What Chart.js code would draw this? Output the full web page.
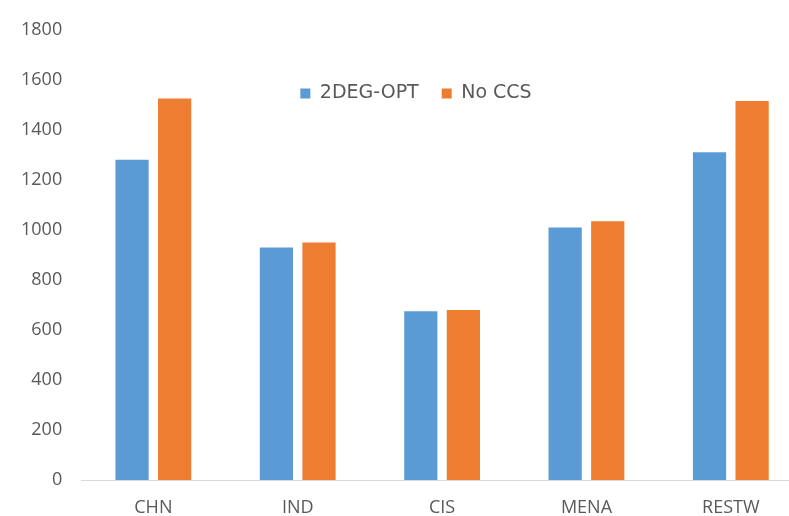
<!DOCTYPE html>
<html>
<head>
<meta charset="utf-8">
<script src="https://cdn.jsdelivr.net/npm/chart.js@4"></script>
<style>
  html, body { margin: 0; padding: 0; background: #ffffff; overflow: hidden; width: 789px; height: 516px; }
  #wrap { position: absolute; left: 0; top: 0; width: 806px; height: 516px; }
</style>
</head>
<body>
<div id="wrap"><canvas id="c" width="806" height="516"></canvas></div>
<script>
const categories = ['CHN', 'IND', 'CIS', 'MENA', 'RESTW'];
const series2degOpt = [1280, 930, 675, 1010, 1310];
const seriesNoCcs = [1525, 950, 680, 1035, 1515];
const yTicks = [0, 200, 400, 600, 800, 1000, 1200, 1400, 1600, 1800];

const textColor = '#595959';

// Place the legend inside the plot area (as in the reference) without shrinking the plot.
const legendInside = {
  id: 'legendInside',
  beforeLayout(chart) {
    const lg = chart.legend;
    if (lg && !lg._insidePatched) {
      const origFit = lg.fit;
      lg.fit = function () { origFit.call(this); this.height = 0; };
      lg._insidePatched = true;
    }
  },
  afterLayout(chart) {
    const lg = chart.legend;
    if (!lg || !lg.lineWidths) return;
    const pad = lg.options.labels.padding;
    const lw = lg.lineWidths[0];
    const targetCenter = 416;
    const start = targetCenter - (lw - pad) / 2;
    lg.left = 0;
    lg.right = 2 * start - pad + lw;
    lg.width = lg.right - lg.left;
    lg.top = 93.5 - pad - 9.5;
    lg.height = 60;
    lg.bottom = lg.top + lg.height;
  }
};

new Chart(document.getElementById('c'), {
  type: 'bar',
  data: {
    labels: categories,
    datasets: [
      { label: '2DEG-OPT', data: series2degOpt, backgroundColor: '#5B9BD5', borderWidth: 0 },
      { label: 'No CCS', data: seriesNoCcs, backgroundColor: '#ED7D31', borderWidth: 0 }
    ]
  },
  options: {
    responsive: false,
    animation: false,
    devicePixelRatio: 1,
    layout: { padding: { left: 2, right: 3, top: 22, bottom: -20 } },
    datasets: { bar: { categoryPercentage: 0.59, barPercentage: 0.78 } },
    plugins: {
      legend: {
        position: 'top',
        align: 'center',
        labels: {
          boxWidth: 10,
          boxHeight: 10,
          padding: 23,
          color: textColor,
          font: { family: 'DejaVu Sans', size: 19 }
        }
      },
      tooltip: { enabled: false }
    },
    scales: {
      x: {
        grid: { display: false, drawTicks: false },
        border: { display: true, color: '#D9D9D9', width: 1 },
        ticks: { color: textColor, padding: 19, font: { family: 'Open Sans', size: 18, lineHeight: 1 } }
      },
      y: {
        min: 0,
        max: 1800,
        afterBuildTicks(axis) { axis.ticks = yTicks.map(v => ({ value: v })); },
        grid: { display: false, drawTicks: false },
        border: { display: false },
        ticks: {
          color: textColor,
          padding: 19,
          font: { family: 'Open Sans', size: 18 },
          callback: (v) => String(v)
        }
      }
    }
  },
  plugins: [legendInside]
});
</script>
</body>
</html>
